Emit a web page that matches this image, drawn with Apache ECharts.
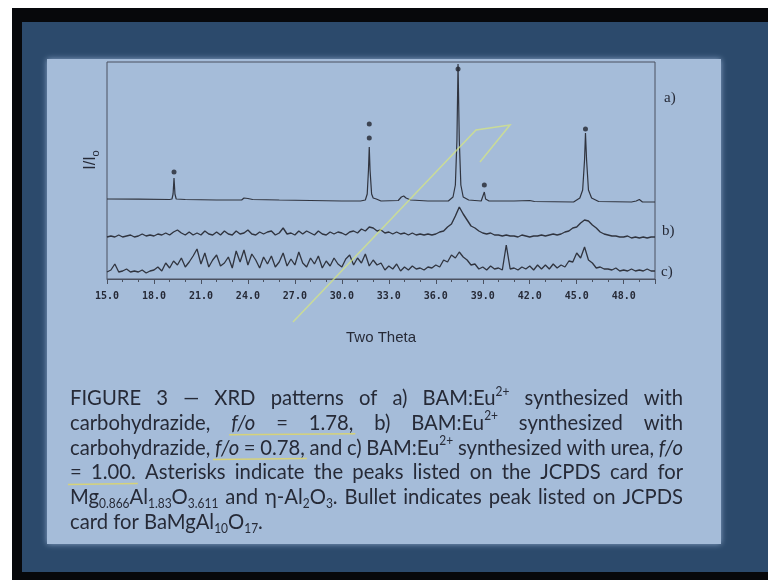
<!DOCTYPE html>
<html>
<head>
<meta charset="UTF-8">
<title>XRD patterns</title>
<script src="https://cdn.jsdelivr.net/npm/echarts@6/dist/echarts.min.js"></script>
<style>html,body{margin:0;padding:0;background:#fff;}</style>
</head>
<body>
<div id="chart" style="width:768px;height:580px;"></div>
<script>
// tick labels of the two theta axis
var xTicks = [15, 18, 21, 24, 27, 30, 33, 36, 39, 42, 45, 48];

// trace a) - sharp peaks, height above its own baseline
var aTheta = [15.0, 17.0, 19.0, 19.15, 19.22, 19.28, 19.34, 19.42, 20.0, 22.0, 23.6, 23.75, 23.85, 24.0, 24.3, 26.0, 28.0, 30.0,
  31.2, 31.5, 31.62, 31.7, 31.75, 31.8, 31.9, 32.0, 32.1, 32.2, 32.5, 33.6, 33.8, 33.95, 34.1, 34.4, 35.5, 36.8,
  37.1, 37.25, 37.35, 37.42, 37.5, 37.6, 37.75, 38.1, 38.9, 39.0, 39.1, 39.18, 39.4, 41.0, 42.0, 42.3, 44.8,
  45.2, 45.38, 45.5, 45.56, 45.63, 45.75, 45.95, 46.4, 48.5, 48.8, 49.0, 49.2, 50.0];
var aHeight = [1, 0.8, 0.5, 1, 6, 22, 6, 1, 0.5, 0, 0, 2, 3, 1.5, 0.5, 0, -0.5, -1,
  -1, 0, 6, 30, 53, 30, 6, 2, 3, 1, -1, -0.5, 3, 4, 2, 0, -1, -1,
  3, 15, 60, 136, 60, 15, 3, 0, -1, 1, 8, 1, -1, -1, -0.5, -1.5, -2,
  2, 10, 40, 67, 40, 10, 2, -1.5, -2, -1, 0.5, -2, -2];

// asterisks / bullets above the peaks of a)
var markTheta = [19.28, 31.75, 31.75, 37.42, 39.1, 45.56];
var markHeight = [28, 62, 76, 131, 15, 71];

// traces b) and c), read every 0.25 deg from 15.0 to 50.0
var bHeight = [
  0, 1, 0, 2,   0, 1, 2, 0,   1, 3, 1, 2,   1, 3, 2, 4,   2, 5, 7, 4,
  2, 5, 2, 4,   2, 6, 3, 2,   5, 2, 6, 3,   2, 6, 3, 4,   7, 3, 2, 5,
  3, 5, 6, 2,   4, 9, 3, 4,   2, 6, 3, 6,   4, 2, 6, 3,   2, 5, 3, 5,
  4, 2, 5, 6,   4, 8, 6, 10,  9, 6, 7, 4,   5, 3, 5, 3,   4, 2, 4, 2,
  3, 2, 3, 2,   3, 5, 6, 10,  13, 21, 30, 23, 17, 11, 9, 6, 4, 3, 4, 2,
  2, 1, 2, 1,   1, 0, 2, 1,   0, 1, 1, 2,   1, 2, 3, 2,   3, 5, 6, 9,
  10, 14, 17, 16, 12, 9, 5, 3, 2, 1, 1, 0,  0, 1, -1, 0,  -1, 0, -1, 0,
  0];
var cHeight = [
  2, 4, 10, 2,  3, 5, 2, 3,   2, 4, 1, 3,   4, 7, 3, 11,  6, 13, 9, 16,
  7, 12, 18, 25, 10, 21, 7, 14, 19, 8, 11, 17, 6, 23, 12, 24, 9, 20, 14, 6,
  17, 10, 18, 7, 12, 21, 8, 15, 9, 22, 11, 7, 16, 10, 18, 6, 13, 8, 16, 10,
  7, 15, 19, 9, 16, 11, 20, 8, 14, 9, 11, 4,  8, 5, 10, 3,   7, 4, 8, 5,
  6, 4, 7, 6,   9, 7, 14, 12,  19, 16, 22, 17, 14, 9, 10, 5,  7, 4, 8, 5,
  6, 4, 29, 5,  6, 4, 7, 5,   8, 4, 9, 5,   9, 5, 10, 6,  9, 7, 13, 12,
  21, 16, 27, 14, 11, 6, 7, 5, 5, 4, 6, 3,   4, 3, 5, 3,   4, 3, 5, 3,
  3];

// caption text
var captionLines = [
  'FIGURE 3 \u2014 XRD patterns of a) BAM:Eu{sup|2+} synthesized with',
  'carbohydrazide, {i|f/o} = 1.78, b) BAM:Eu{sup|2+} synthesized with',
  'carbohydrazide, {i|f/o} = 0.78, and c) BAM:Eu{sup|2+} synthesized with urea, {i|f/o}',
  '= 1.00. Asterisks indicate the peaks listed on the JCPDS card for',
  'Mg{sub|0.866}Al{sub|1.83}O{sub|3.611} and \u03b7-Al{sub|2}O{sub|3}. Bullet indicates peak listed on JCPDS',
  'card for BaMgAl{sub|10}O{sub|17}.'
];
// pen underlines: caption line, first word, last word
var underlines = [[1, 1, 3], [2, 1, 3], [3, 0, 1]];

var A_BASE = 79, B_BASE = 42, C_BASE = 5;
var LINE_COLOR = '#30343f';
var AXIS_COLOR = '#4b5160';
var TEXT_COLOR = '#262a37';
var CAP_FONT = 'Lato, "Open Sans", sans-serif';
var CAP_SIZE = 22, SCRIPT_SIZE = 13;

function gridTheta(i) { return 15 + i * 0.25; }

var aData = aTheta.map(function (t, i) { return [t, aHeight[i] + A_BASE]; });
var bData = bHeight.map(function (h, i) { return [gridTheta(i), h + B_BASE]; });
var cData = cHeight.map(function (h, i) { return [gridTheta(i), h + C_BASE]; });
var markData = markTheta.map(function (t, i) { return [t, markHeight[i] + A_BASE]; });

var capRich = {
  i: { fontSize: CAP_SIZE, fontFamily: CAP_FONT, fontStyle: 'italic', fill: TEXT_COLOR, lineHeight: 26 },
  sup: { fontSize: SCRIPT_SIZE, fontFamily: CAP_FONT, fill: TEXT_COLOR, lineHeight: 16, verticalAlign: 'top' },
  sub: { fontSize: SCRIPT_SIZE, fontFamily: CAP_FONT, fill: TEXT_COLOR, lineHeight: 18, verticalAlign: 'bottom' }
};

function buildCaption() {
  var ctx = document.createElement('canvas').getContext('2d');
  function fontFor(k) {
    if (k === 'i') return 'italic ' + CAP_SIZE + 'px ' + CAP_FONT;
    if (k === 'sup' || k === 'sub') return SCRIPT_SIZE + 'px ' + CAP_FONT;
    return CAP_SIZE + 'px ' + CAP_FONT;
  }
  function measure(w) {
    var re = /\{(\w+)\|([^}]*)\}|([^{]+)/g, m, total = 0;
    while ((m = re.exec(w))) {
      ctx.font = fontFor(m[1] || 'n');
      total += ctx.measureText(m[1] ? m[2] : m[3]).width;
    }
    return total;
  }
  ctx.font = fontFor('n');
  var spaceW = ctx.measureText(' ').width;
  var left = 70, right = 683, top = 398, step = 24.8;
  var W = right - left;
  var minGap = spaceW * 0.6;
  var lines = captionLines.map(function (line) {
    var words = line.split(' ');
    var widths = words.map(measure);
    var sum = widths.reduce(function (a, b) { return a + b; }, 0);
    return { words: words, widths: widths, sum: sum };
  });
  // one horizontal squeeze for the whole caption, set by the tightest justified line
  var sx = 0.92;
  lines.forEach(function (l, li) {
    if (li === lines.length - 1) return;
    sx = Math.min(sx, W / (l.sum + minGap * (l.words.length - 1)));
  });
  var els = [];
  lines.forEach(function (l, li) {
    var last = li === lines.length - 1;
    var gap = last ? spaceW : (W / sx - l.sum) / (l.words.length - 1);
    var x = 0, pos = [], children = [];
    l.words.forEach(function (w, i) {
      pos.push(x);
      children.push({
        type: 'text', x: x, y: 0, z: 10,
        style: { text: w, fontSize: CAP_SIZE, fontFamily: CAP_FONT, fill: TEXT_COLOR,
          lineHeight: 26, verticalAlign: 'middle', align: 'left', rich: capRich }
      });
      x += l.widths[i] + gap;
    });
    var y = top + li * step;
    els.push({ type: 'group', x: left, y: y, scaleX: sx, children: children });
    underlines.forEach(function (u) {
      if (u[0] !== li) return;
      var x1 = left + pos[u[1]] * sx - 2;
      var x2 = left + (pos[u[2]] + l.widths[u[2]]) * sx + 2;
      els.push({ type: 'line', z: 11, shape: { x1: x1, y1: y + 12, x2: x2, y2: y + 11 },
        style: { stroke: 'rgba(222,214,104,0.85)', lineWidth: 1.5 } });
    });
  });
  return els;
}

var graphics = [
  { type: 'rect', z: -10, shape: { x: 12, y: 8, width: 756, height: 572 }, style: { fill: '#07080b' } },
  { type: 'rect', z: -9, shape: { x: 22, y: 22, width: 746, height: 550 }, style: { fill: '#2c4a6c' } },
  { type: 'rect', z: -8, shape: { x: 47, y: 59, width: 674, height: 485 },
    style: { fill: '#a5bcd9', shadowBlur: 6, shadowColor: 'rgba(150,175,210,0.9)' } },
  { type: 'text', z: 10, x: 91, y: 160, rotation: Math.PI / 2,
    style: { text: 'I/I{sub|o}', fontSize: 16, fontFamily: '"Liberation Sans", Arial, sans-serif', fill: TEXT_COLOR,
      align: 'center', verticalAlign: 'middle', lineHeight: 20,
      rich: { sub: { fontSize: 11, fill: TEXT_COLOR, lineHeight: 15, verticalAlign: 'bottom' } } } },
  { type: 'text', z: 10, x: 381, y: 338,
    style: { text: 'Two Theta', fontSize: 15, fontFamily: '"Liberation Sans", Arial, sans-serif', fill: TEXT_COLOR,
      align: 'center', verticalAlign: 'middle' } },
  { type: 'text', z: 10, x: 664, y: 98,
    style: { text: 'a)', fontSize: 15, fontFamily: '"Liberation Serif", serif', fill: TEXT_COLOR, verticalAlign: 'middle' } },
  { type: 'text', z: 10, x: 662, y: 231,
    style: { text: 'b)', fontSize: 15, fontFamily: '"Liberation Serif", serif', fill: TEXT_COLOR, verticalAlign: 'middle' } },
  { type: 'text', z: 10, x: 661, y: 272,
    style: { text: 'c)', fontSize: 15, fontFamily: '"Liberation Serif", serif', fill: TEXT_COLOR, verticalAlign: 'middle' } },
  // pen arrow drawn on the slide
  { type: 'polyline', z: 11, shape: { points: [[293, 322], [476, 130], [510, 125], [480, 162]] },
    style: { stroke: 'rgba(214,230,130,0.75)', lineWidth: 1.5, fill: null } }
].concat(buildCaption());

var chart = echarts.init(document.getElementById('chart'));
chart.setOption({
  backgroundColor: '#ffffff',
  animation: false,
  grid: { left: 107, right: 113, top: 62, bottom: 301, show: true, borderColor: AXIS_COLOR, borderWidth: 1,
    backgroundColor: 'transparent' },
  xAxis: {
    type: 'value', min: 15, max: 50, interval: 3,
    axisLine: { show: true, onZero: false, lineStyle: { color: AXIS_COLOR, width: 1 } },
    axisTick: { show: true, inside: false, length: 5, lineStyle: { color: AXIS_COLOR } },
    minorTick: { show: true, splitNumber: 3, length: 3, lineStyle: { color: AXIS_COLOR } },
    splitLine: { show: false },
    axisLabel: {
      margin: 12, showMaxLabel: false, fontFamily: '"DejaVu Sans Mono", monospace', fontWeight: 'bold',
      fontSize: 10, color: TEXT_COLOR,
      formatter: function (v) { return xTicks.indexOf(v) >= 0 ? v.toFixed(1) : ''; }
    }
  },
  yAxis: { type: 'value', min: 0, max: 217, show: false },
  series: [
    { name: 'a', type: 'line', data: aData, symbol: 'none', lineStyle: { color: LINE_COLOR, width: 1.2 } },
    { name: 'b', type: 'line', data: bData, symbol: 'none', lineStyle: { color: LINE_COLOR, width: 1.4 } },
    { name: 'c', type: 'line', data: cData, symbol: 'none', lineStyle: { color: LINE_COLOR, width: 1.3 } },
    { name: 'marks', type: 'scatter', data: markData, symbol: 'circle', symbolSize: 5,
      itemStyle: { color: '#23262f' }, z: 5 }
  ],
  graphic: graphics
});
</script>
</body>
</html>
